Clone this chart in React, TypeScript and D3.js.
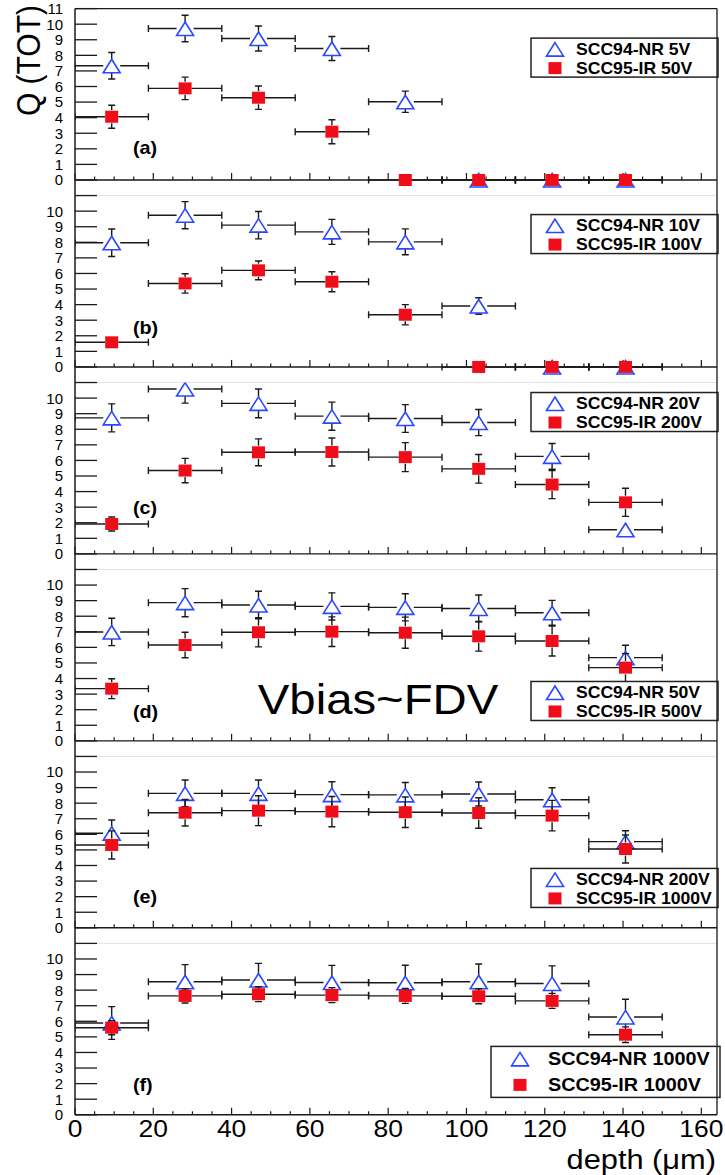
import { useEffect, useRef } from 'react';
import * as d3 from 'd3';

// depth bins (um), same for every panel
const binEdges = [0, 18.75, 37.5, 56.25, 75, 93.75, 112.5, 131.25, 150];
const xTicks = [0, 20, 40, 60, 80, 100, 120, 140, 160];

const panelTags = ['(a)', '(b)', '(c)', '(d)', '(e)', '(f)'];
const nrLabels = ['SCC94-NR 5V', 'SCC94-NR 10V', 'SCC94-NR 20V', 'SCC94-NR 50V', 'SCC94-NR 200V', 'SCC94-NR 1000V'];
const irLabels = ['SCC95-IR 50V', 'SCC95-IR 100V', 'SCC95-IR 200V', 'SCC95-IR 500V', 'SCC95-IR 1000V', 'SCC95-IR 1000V'];

// Q (TOT) per bin, SCC94-NR (open triangles)
const nrValues = [
  [7.33, 9.72, 9.08, 8.44, 5.02, 0, 0, 0],
  [7.97, 9.74, 9.1, 8.67, 8.03, 3.91, 0, 0],
  [8.73, 10.58, 9.66, 8.84, 8.69, 8.43, 6.26, 1.55],
  [6.99, 8.87, 8.72, 8.63, 8.57, 8.5, 8.22, 5.34],
  [6.07, 8.63, 8.63, 8.55, 8.53, 8.59, 8.22, 5.53],
  [5.89, 8.54, 8.65, 8.49, 8.47, 8.54, 8.43, 6.28],
];
const nrErrors = [
  [0.85, 0.85, 0.8, 0.77, 0.68, 0, 0, 0],
  [0.88, 0.87, 0.88, 0.8, 0.83, 0.53, 0, 0],
  [0.9, 0.9, 0.92, 0.9, 0.89, 0.84, 0.83, 0.05],
  [0.88, 0.9, 0.88, 0.87, 0.87, 0.86, 0.8, 0.8],
  [0.85, 0.86, 0.86, 0.83, 0.8, 0.77, 0.77, 0.7],
  [1.05, 1.1, 1.07, 1.1, 1.13, 1.14, 1.13, 1.14],
];

// SCC95-IR (filled squares)
const irValues = [
  [4.06, 5.88, 5.28, 3.1, 0, 0, 0, 0],
  [1.58, 5.36, 6.2, 5.47, 3.35, 0, 0, 0],
  [1.92, 5.35, 6.52, 6.54, 6.21, 5.46, 4.45, 3.31],
  [3.35, 6.15, 6.97, 7.01, 6.94, 6.71, 6.41, 4.7],
  [5.32, 7.39, 7.52, 7.46, 7.42, 7.37, 7.2, 5.06],
  [5.59, 7.63, 7.74, 7.68, 7.63, 7.61, 7.31, 5.14],
];
const irErrors = [
  [0.74, 0.72, 0.75, 0.77, 0, 0, 0, 0],
  [0.08, 0.62, 0.6, 0.64, 0.65, 0, 0, 0],
  [0.45, 0.78, 0.86, 0.9, 0.93, 0.92, 0.9, 0.9],
  [0.64, 0.82, 0.94, 0.95, 1.0, 0.95, 0.96, 0.9],
  [0.9, 0.85, 0.96, 0.97, 0.98, 0.98, 0.98, 0.9],
  [0.45, 0.46, 0.48, 0.48, 0.48, 0.48, 0.48, 0.5],
];

const tagY = [2.1, 2.55, 2.95, 1.9, 2.0, 1.95];

const W = 725;
const H = 1175;
const FONT = '"Liberation Sans", Arial, Helvetica, sans-serif';
const BLUE = '#2a48ff';
const RED = '#f00d1a';
const INK = '#1a1a1a';
const SX = 1.1; // the original is slightly stretched sideways

export default function App() {
  const ref = useRef<SVGSVGElement>(null);

  useEffect(() => {
    if (!ref.current) return;
    const svg = d3.select(ref.current);
    svg.selectAll('*').remove();
    svg.append('rect').attr('width', W).attr('height', H).attr('fill', '#fff');
    const defs = svg.append('defs');

    const left = 75;
    const right = 717;
    const top0 = 8.6;
    const unit = 15.58;
    const x = d3.scaleLinear().domain([0, 164]).range([left, right]);
    const centers = d3.pairs(binEdges).map(([a, b]) => (a + b) / 2);

    const text = (g, px, py, s, size, opts = {}) =>
      g
        .append('text')
        .attr('transform', `translate(${px},${py}) scale(${SX},1)`)
        .attr('font-family', FONT)
        .attr('font-size', size)
        .attr('font-weight', opts.bold ? 700 : 400)
        .attr('text-anchor', opts.anchor || 'start')
        .attr('dy', opts.dy || null)
        .attr('fill', '#000')
        .text(s);

    const tri = (cx, cy) => `M${cx},${cy - 6.5}L${cx + 8.5},${cy + 7}L${cx - 8.5},${cy + 7}Z`;

    const drawSeries = (g, vals, errs, x, y, kind) => {
      const gap = kind === 'tri' ? 8.5 : 6.5;
      const vTop = 6.5;
      const vBot = kind === 'tri' ? 7 : 6.5;
      vals.forEach((v, k) => {
        const cx = x(centers[k]);
        const cy = y(v);
        const xl = x(binEdges[k]);
        const xr = x(binEdges[k + 1]);
        const yt = y(v + errs[k]);
        const yb = y(v - errs[k]);
        const seg = (x1, y1, x2, y2) =>
          g.append('line').attr('x1', x1).attr('y1', y1).attr('x2', x2).attr('y2', y2)
            .attr('stroke', INK).attr('stroke-width', 1.4);
        seg(xl, cy, cx - gap, cy);
        seg(cx + gap, cy, xr, cy);
        seg(xl, cy - 3.5, xl, cy + 3.5);
        seg(xr, cy - 3.5, xr, cy + 3.5);
        if (cy - yt > vTop) {
          seg(cx, yt, cx, cy - vTop);
          seg(cx - 3.5, yt, cx + 3.5, yt);
        }
        if (yb - cy > vBot) {
          seg(cx, cy + vBot, cx, yb);
          seg(cx - 3.5, yb, cx + 3.5, yb);
        }
        if (kind === 'tri') {
          g.append('path').attr('d', tri(cx, cy)).attr('fill', 'none').attr('stroke', BLUE).attr('stroke-width', 1.6);
        } else {
          g.append('rect').attr('x', cx - 6.5).attr('y', cy - 6).attr('width', 13).attr('height', 12).attr('fill', RED);
        }
      });
    };

    panelTags.forEach((tag, i) => {
      const last = i === panelTags.length - 1;
      const yMin = last ? 0 : -1;
      const pTop = top0 + 12 * unit * i;
      const pBot = pTop + (11 - yMin) * unit;
      const y = d3.scaleLinear().domain([yMin, 11]).range([pBot, pTop]);
      const g = svg.append('g');

      if (i > 0) {
        g.append('line').attr('x1', left).attr('x2', right).attr('y1', pTop).attr('y2', pTop)
          .attr('stroke', '#e4e4e4').attr('stroke-width', 1);
      }

      // y axis ticks + labels
      d3.range(0, 12).forEach((v) => {
        g.append('line').attr('x1', left).attr('x2', left + 22).attr('y1', y(v)).attr('y2', y(v))
          .attr('stroke', INK).attr('stroke-width', 1.3);
      });
      d3.range(0, i === 0 ? 12 : 11).forEach((v) => {
        g.append('text').attr('x', 63).attr('y', y(v)).attr('dy', '0.36em')
          .attr('text-anchor', 'end').attr('font-family', FONT).attr('font-size', 15).text(v);
      });

      // x axis at Q = 0
      const y0 = y(0);
      g.append('line').attr('x1', left).attr('x2', right).attr('y1', y0).attr('y2', y0)
        .attr('stroke', INK).attr('stroke-width', 1.4);
      d3.range(0, 165, 5).forEach((t) => {
        const major = t % 20 === 0;
        g.append('line').attr('x1', x(t)).attr('x2', x(t)).attr('y1', y0).attr('y2', y0 - (major ? 7 : 3.5))
          .attr('stroke', INK).attr('stroke-width', 1.2);
      });

      // data
      defs.append('clipPath').attr('id', `clip${i}`).append('rect')
        .attr('x', left).attr('y', pTop).attr('width', right - left).attr('height', pBot - pTop);
      const data = g.append('g').attr('clip-path', `url(#clip${i})`);
      drawSeries(data, nrValues[i], nrErrors[i], x, y, 'tri');
      drawSeries(data, irValues[i], irErrors[i], x, y, 'sq');

      text(g, x(14.8), y(tagY[i]), tag, 18, { bold: true, dy: '0.35em' });

      // legend
      const big = last;
      const lx = big ? 491 : 531;
      const lw = (big ? 720 : 718) - lx;
      const lh = big ? 51 : 39;
      const ly = pTop + [29.5, 19, 10, 112, 112, 103][i];
      const lg = g.append('g');
      lg.append('rect').attr('x', lx).attr('y', ly).attr('width', lw).attr('height', lh)
        .attr('fill', '#fff').attr('stroke', '#222').attr('stroke-width', 1.5);
      const r1 = ly + (big ? 12.5 : 11);
      const r2 = ly + (big ? 38.5 : 30);
      const mx = big ? 520 : 555;
      const tx = big ? 548 : 576;
      lg.append('path').attr('d', tri(mx, r1)).attr('fill', 'none').attr('stroke', BLUE).attr('stroke-width', 1.6);
      lg.append('rect').attr('x', mx - 6.5).attr('y', r2 - 6).attr('width', 13).attr('height', 12).attr('fill', RED);
      text(lg, tx, r1, nrLabels[i], big ? 18 : 16, { bold: true, dy: '0.36em' });
      text(lg, tx, r2, irLabels[i], big ? 18 : 16, { bold: true, dy: '0.36em' });

      if (i === 3) {
        text(g, x(46.7), y(1.73), 'Vbias~FDV', 43);
      }
      if (last) {
        xTicks.forEach((t) => text(g, x(t), 1137, String(t), 24, { anchor: 'middle' }));
        text(g, 716, 1169, 'depth (\u03bcm)', 28, { anchor: 'end' });
      }
    });

    // frame: left axis, top, right
    const fBot = top0 + 12 * unit * 5 + 11 * unit;
    svg.append('line').attr('x1', left).attr('x2', left).attr('y1', top0).attr('y2', fBot)
      .attr('stroke', INK).attr('stroke-width', 1.5);
    svg.append('line').attr('x1', left).attr('x2', right).attr('y1', top0).attr('y2', top0)
      .attr('stroke', INK).attr('stroke-width', 1.3);
    svg.append('line').attr('x1', right).attr('x2', right).attr('y1', top0).attr('y2', fBot)
      .attr('stroke', INK).attr('stroke-width', 1.3);

    // y title
    svg.append('text')
      .attr('transform', `translate(40,5) scale(${SX},1) rotate(-90)`)
      .attr('font-family', FONT).attr('font-size', 30).attr('text-anchor', 'end')
      .text('Q (TOT)');
  }, []);

  return (
    <svg ref={ref} width={W} height={H} style={{ position: 'absolute', left: 0, top: 0, display: 'block' }} />
  );
}
